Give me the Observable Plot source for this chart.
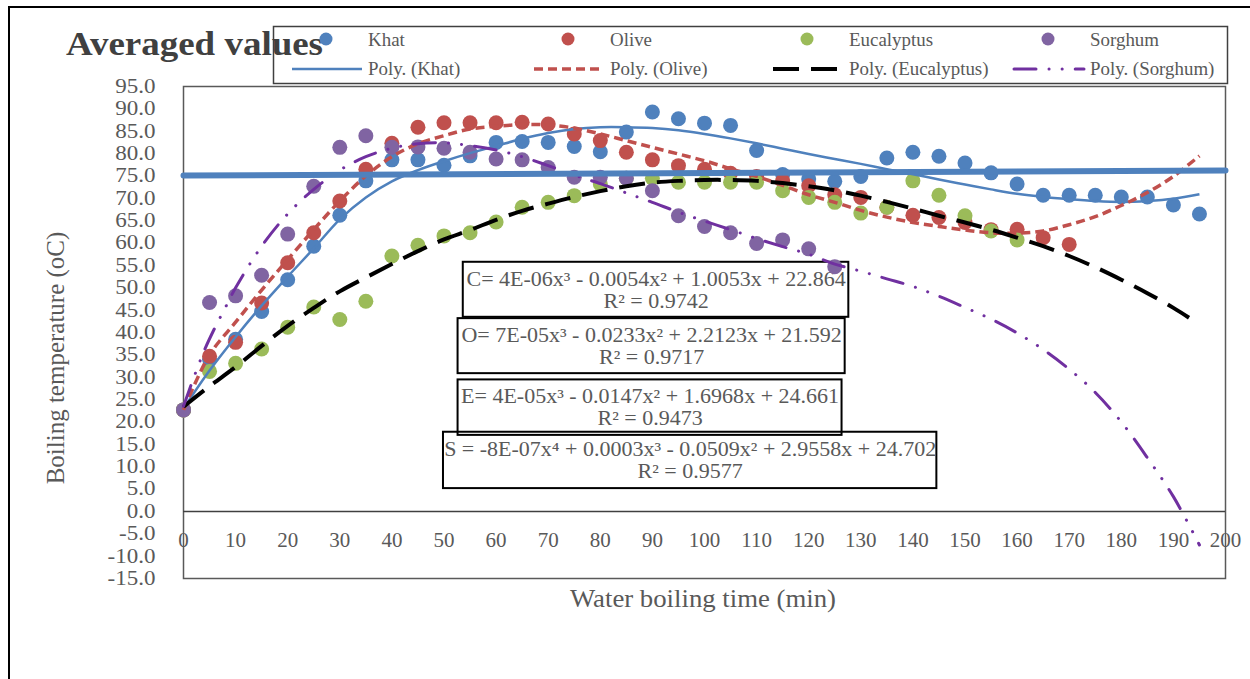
<!DOCTYPE html>
<html>
<head>
<meta charset="utf-8">
<script src="https://cdn.jsdelivr.net/npm/d3@7"></script>
<script src="https://cdn.jsdelivr.net/npm/@observablehq/plot@0.6"></script>
<style>
  html, body { margin: 0; padding: 0; background: #fff; overflow: hidden; }
  #wrap { position: relative; width: 1250px; height: 679px; overflow: hidden; font-family: "Liberation Serif", "Times New Roman", serif; }
  #outer { position: absolute; left: 8px; top: 6px; width: 1300px; height: 720px; border: 2.5px solid #000; box-sizing: border-box; }
  #chart, #overlay { position: absolute; left: 0; top: 0; }
  #overlay { pointer-events: none; }
</style>
</head>
<body>
<div id="wrap">
  <div id="outer"></div>
  <div id="chart"></div>
  <svg id="overlay" width="1250" height="679"></svg>
</div>
<script>
// ---------------- DATA ----------------
const seriesNames = ["Khat", "Olive", "Eucalyptus", "Sorghum"];
const minutes = [0,5,10,15,20,25,30,35,40,45,50,55,60,65,70,75,80,85,90,95,100,105,110,115,120,125,130,135,140,145,150,155,160,165,170,175,180,185,190,195];

const khat = [22.7,34.0,38.5,44.7,51.8,59.3,66.2,73.9,78.6,78.6,77.4,79.5,82.5,82.7,82.5,81.6,80.4,84.8,89.3,87.8,86.8,86.3,80.7,75.3,74.3,73.8,74.9,79.0,80.3,79.4,77.9,75.7,73.2,70.7,70.7,70.7,70.3,70.3,68.5,66.5];
const olive = [22.7,34.7,37.8,46.6,55.6,62.3,69.4,76.5,82.3,85.9,86.9,86.9,86.9,87.0,86.6,84.4,82.9,80.3,78.6,77.3,76.5,75.6,74.9,73.9,72.8,70.8,70.2,68.0,66.2,65.7,64.6,63.0,63.1,61.2,59.7];
const eucalyptus = [22.7,31.3,33.1,36.3,41.2,45.7,42.9,47.0,57.1,59.5,61.6,62.3,64.7,68.0,69.1,70.6,73.2,74.5,74.5,73.6,73.6,73.6,73.6,71.7,70.2,69.1,66.7,68.0,73.9,70.7,66.1,62.7,60.7];
const sorghum = [22.7,46.7,48.2,52.8,62.0,72.7,81.4,84.0,81.4,81.5,81.2,80.3,78.8,78.6,76.9,74.7,74.7,74.5,71.7,66.1,63.7,62.3,59.9,60.7,58.7,54.7];

// polynomial trend lines as drawn in the picture: [minute, temperature]
const khatTrend = [[0,23],[5,31.5],[10,39],[15,46],[20,52.5],[25,58.8],[30,65.3],[35,70.2],[40,73.8],[45,76.3],[50,78.3],[55,80.1],[60,81.7],[65,83.3],[70,84.6],[75,85.5],[80,85.9],[85,85.9],[90,85.7],[95,85.2],[100,84.4],[105,83.4],[110,82.3],[115,81.1],[120,79.9],[125,78.8],[130,77.7],[135,76.5],[140,75.4],[145,74.2],[150,73.1],[155,72],[160,71],[165,70.3],[170,69.8],[175,69.4],[180,69.2],[185,69.4],[190,69.9],[195,70.9]];
const oliveTrend = [[0,22.7],[5,35],[10,42.3],[15,49.5],[20,56.3],[25,63],[30,69.4],[35,75],[40,79.3],[45,82.2],[50,84],[55,85.5],[60,86.1],[65,86.5],[70,86.4],[75,85.7],[80,84.4],[85,82.9],[90,81.4],[95,79.9],[100,78.4],[105,76.6],[110,74.9],[115,72.9],[120,70.8],[125,69.1],[130,67.3],[135,65.8],[140,64.6],[145,63.7],[150,62.9],[155,62.3],[160,62.2],[165,62.7],[170,64.1],[175,65.9],[180,68.4],[185,71.3],[190,74.9],[195,79.5]];
const eucalyptusTrend = [[0,23.4],[5,28],[10,32.3],[15,37],[20,41.5],[25,45.5],[30,49.2],[35,52.3],[40,55.3],[45,58.2],[50,60.8],[55,62.9],[60,65.2],[65,67.2],[70,68.8],[75,70.3],[80,71.6],[85,72.7],[90,73.5],[95,73.9],[100,74.1],[105,74.1],[110,73.9],[115,73.4],[120,72.7],[125,71.8],[130,70.6],[135,69.2],[140,67.7],[145,66.1],[150,64.6],[155,63],[160,61.2],[165,59.3],[170,57.1],[175,54.6],[180,51.8],[185,48.8],[190,45.5],[193,43.3]];
const sorghumTrend = [[0,23.5],[2,30],[4,36],[6,41],[8,45.5],[10,50],[15,59.3],[20,66.5],[25,72],[30,76.3],[35,79.3],[40,81.2],[45,82.2],[50,82.4],[55,81.8],[60,80.8],[65,79.3],[70,77.3],[75,75.2],[80,73.3],[85,71.2],[90,69.1],[95,66.9],[100,64.9],[105,63],[110,61],[115,59.2],[120,57.5],[125,55.3],[130,53.7],[135,52],[140,50.3],[145,48.1],[150,45.6],[155,43],[160,39.9],[165,36.2],[170,31.8],[175,26.6],[180,20],[185,12],[190,3.3],[195,-7.5]];
// the thick straight blue line across the chart
const straightLine = [[0,75.1],[200,76.2]];

const yTicks = [-15,-10,-5,0,5,10,15,20,25,30,35,40,45,50,55,60,65,70,75,80,85,90,95];
const xTicks = [0,10,20,30,40,50,60,70,80,90,100,110,120,130,140,150,160,170,180,190,200];

const equationTexts = [
  "C= 4E-06x³ - 0.0054x² + 1.0053x + 22.864",
  "O= 7E-05x³ - 0.0233x² + 2.2123x + 21.592",
  "E= 4E-05x³ - 0.0147x² + 1.6968x + 24.661",
  "S = -8E-07x⁴ + 0.0003x³ - 0.0509x² + 2.9558x + 24.702"
];
const r2Texts = ["R² = 0.9742", "R² = 0.9717", "R² = 0.9473", "R² = 0.9577"];

const titleText = "Averaged values";
const xTitle = "Water boiling time (min)";
const yTitle = "Boiling temperature (oC)";

// ---------------- STYLE ----------------
const colors = {Khat: "#4F81BD", Olive: "#C0504D", Eucalyptus: "#9BBB59", Sorghum: "#8064A2"};
const trendStyle = {
  Khat: {stroke: "#4F81BD", strokeWidth: 2.5, dash: null, cap: "butt"},
  Olive: {stroke: "#C0504D", strokeWidth: 3.5, dash: "9,5", cap: "butt"},
  Eucalyptus: {stroke: "#000000", strokeWidth: 4, dash: "26,12", cap: "butt"},
  Sorghum: {stroke: "#7030A0", strokeWidth: 3, dash: "22,13,0.1,13,0.1,13", cap: "round"}
};
const textGray = "#595959";
const FONT = "Liberation Serif, Times New Roman, serif";

const valuesBySeries = {Khat: khat, Olive: olive, Eucalyptus: eucalyptus, Sorghum: sorghum};
const trendBySeries = {Khat: khatTrend, Olive: oliveTrend, Eucalyptus: eucalyptusTrend, Sorghum: sorghumTrend};

const pointMarks = seriesNames.map(name =>
  Plot.dot(valuesBySeries[name].map((v, i) => ({minute: minutes[i], temp: v})),
    {x: "minute", y: "temp", r: 7.5, fill: colors[name], stroke: "none"})
);
const trendMarks = seriesNames.map(name => {
  const s = trendStyle[name];
  return Plot.line(trendBySeries[name], {
    x: d => d[0], y: d => d[1], curve: "catmull-rom",
    stroke: s.stroke, strokeWidth: s.strokeWidth,
    strokeDasharray: s.dash || undefined, strokeLinecap: s.cap
  });
});

// equation label boxes (data coordinates of the chart)
const boxes = [
  {x1: 53.7, x2: 127.7, y1: 43.4, y2: 55.7},
  {x1: 52.7, x2: 127.0, y1: 30.8, y2: 43.1},
  {x1: 52.7, x2: 126.4, y1: 17.0, y2: 29.4},
  {x1: 49.9, x2: 144.6, y1: 5.1, y2: 17.7}
].map((b, i) => ({...b, eq: equationTexts[i], r2: r2Texts[i]}));

const chart = Plot.plot({
  width: 1250, height: 679,
  marginLeft: 183, marginRight: 25, marginTop: 86, marginBottom: 101,
  x: {domain: [0, 200], axis: null},
  y: {domain: [-15, 95], ticks: yTicks, tickFormat: d => d.toFixed(1), tickSize: 0, tickPadding: 28, label: null},
  style: {fontFamily: FONT, fontSize: "20px", color: textGray, background: "transparent", overflow: "visible"},
  marks: [
    Plot.frame({stroke: "#595959", strokeWidth: 1.5}),
    Plot.ruleY([0], {stroke: "#404040", strokeWidth: 1.5}),
    Plot.text(xTicks, {x: d => d, y: () => 0, dy: 29, text: d => String(d), fontSize: 21, fill: textGray}),
    Plot.rect(boxes, {x1: "x1", x2: "x2", y1: "y1", y2: "y2", fill: "none", stroke: "#000", strokeWidth: 2}),
    Plot.text(boxes, {x: d => (d.x1 + d.x2) / 2, y: "y2", dy: 17, text: "eq", fontSize: 20, fill: textGray}),
    Plot.text(boxes, {x: d => (d.x1 + d.x2) / 2, y: "y2", dy: 39, text: "r2", fontSize: 20, fill: textGray}),
    ...pointMarks,
    ...trendMarks,
    Plot.line(straightLine, {x: d => d[0], y: d => d[1], stroke: "#4F81BD", strokeWidth: 6})
  ]
});
document.getElementById("chart").appendChild(chart);

// the reference's serif text is slightly wider than Liberation Serif: stretch horizontally
function stretch(nodes, k) {
  nodes.forEach(n => {
    const w = n.getComputedTextLength();
    if (w > 0) {
      n.setAttribute("textLength", (w * k).toFixed(1));
      n.setAttribute("lengthAdjust", "spacingAndGlyphs");
    }
  });
}
const chartSel = d3.select(chart);
stretch(chartSel.selectAll('g[aria-label="y-axis tick label"] text').nodes(), 1.15);
stretch(chartSel.selectAll("text").filter(function() {
  const t = this.textContent;
  return equationTexts.includes(t) || r2Texts.includes(t);
}).nodes(), 1.1);

// ---------------- OVERLAY: title, axis titles, legend ----------------
const ov = d3.select("#overlay");
const tNode = ov.append("text").attr("x", 66).attr("y", 55).attr("font-family", FONT).attr("font-weight", "bold")
  .attr("font-size", 33).attr("fill", "#404040").text(titleText).node();
stretch([tNode], 1.12);
const xtNode = ov.append("text").attr("x", 703).attr("y", 607).attr("text-anchor", "middle").attr("font-family", FONT)
  .attr("font-size", 25).attr("fill", textGray).text(xTitle).node();
stretch([xtNode], 1.07);
ov.append("text").attr("transform", "translate(64,358) rotate(-90)").attr("text-anchor", "middle")
  .attr("font-family", FONT).attr("font-size", 25).attr("fill", textGray).text(yTitle);

// legend
ov.append("rect").attr("x", 273.5).attr("y", 26.5).attr("width", 954).attr("height", 57)
  .attr("fill", "none").attr("stroke", "#404040").attr("stroke-width", 1.5);
const legendTextX = [368, 610, 849, 1090];
const legendTextNodes = [];
seriesNames.forEach((name, i) => {
  const tx = legendTextX[i];
  ov.append("circle").attr("cx", tx - 42).attr("cy", 39).attr("r", 6.5).attr("fill", colors[name]);
  legendTextNodes.push(ov.append("text").attr("x", tx).attr("y", 46).attr("font-family", FONT).attr("font-size", 18)
    .attr("fill", textGray).text(name).node());
  const s = trendStyle[name];
  ov.append("line").attr("x1", tx - 76).attr("x2", tx - 6).attr("y1", 69).attr("y2", 69)
    .attr("stroke", s.stroke).attr("stroke-width", s.strokeWidth)
    .attr("stroke-dasharray", s.dash).attr("stroke-linecap", s.cap);
  legendTextNodes.push(ov.append("text").attr("x", tx).attr("y", 75).attr("font-family", FONT).attr("font-size", 18)
    .attr("fill", textGray).text(`Poly. (${name})`).node());
});
stretch(legendTextNodes, 1.05);
</script>
</body>
</html>
